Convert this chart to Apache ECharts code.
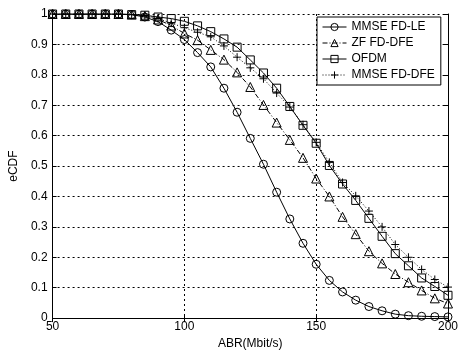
<!DOCTYPE html>
<html>
<head>
<meta charset="utf-8">
<script src="https://cdn.jsdelivr.net/npm/echarts@6/dist/echarts.min.js"></script>
<style>
  html, body { margin: 0; padding: 0; background: #fff; }
  #main { width: 461px; height: 355px; }
</style>
</head>
<body>
<div id="main"></div>
<script>
// x positions (ABR, Mbit/s)
var abr = [50, 55, 60, 65, 70, 75, 80, 85, 90, 95, 100, 105, 110, 115, 120, 125,
           130, 135, 140, 145, 150, 155, 160, 165, 170, 175, 180, 185, 190, 195, 200];

var mmseLE = [1, 1, 1, 1, 1, 1, 0.998, 0.99, 0.975, 0.947, 0.916, 0.873, 0.826, 0.756, 0.677, 0.591,
              0.506, 0.414, 0.326, 0.246, 0.177, 0.124, 0.086, 0.059, 0.038, 0.024, 0.013, 0.008, 0.006, 0.005, 0.004];
var zfDFE = [1, 1, 1, 1, 1, 1, 0.998, 0.993, 0.982, 0.962, 0.936, 0.914, 0.882, 0.85, 0.808, 0.76,
             0.701, 0.643, 0.586, 0.527, 0.459, 0.4, 0.333, 0.276, 0.22, 0.18, 0.145, 0.118, 0.091, 0.065, 0.048];
var ofdm = [1, 1, 1, 1, 1, 1, 0.998, 0.996, 0.99, 0.985, 0.976, 0.961, 0.942, 0.918, 0.891, 0.849,
            0.806, 0.756, 0.696, 0.634, 0.575, 0.502, 0.441, 0.387, 0.328, 0.269, 0.212, 0.172, 0.132, 0.104, 0.075];
var mmseDFE = [1, 1, 1, 1, 1, 1, 0.998, 0.995, 0.985, 0.97, 0.955, 0.94, 0.925, 0.895, 0.858, 0.823,
               0.787, 0.74, 0.694, 0.636, 0.578, 0.512, 0.446, 0.402, 0.352, 0.3, 0.242, 0.2, 0.16, 0.127, 0.102];

var yTicks = ["0", "0.1", "0.2", "0.3", "0.4", "0.5", "0.6", "0.7", "0.8", "0.9", "1"];

function pairs(ys) {
    var out = [];
    for (var i = 0; i < abr.length; i++) {
        out.push([abr[i], ys[i]]);
    }
    return out;
}

var font = "Liberation Sans";
var plusPath = "path://M0,5L10,5M5,0L5,10";

function mkSeries(name, ys, symbol, size, lineType) {
    return {
        name: name,
        type: "line",
        data: pairs(ys),
        symbol: symbol,
        symbolSize: size,
        showAllSymbol: true,
        lineStyle: { color: "#000", width: 1, type: lineType },
        itemStyle: { color: "rgba(255,255,255,0)", borderColor: "#000", borderWidth: 1 },
        emphasis: { disabled: true },
        z: 3
    };
}

var chart = echarts.init(document.getElementById("main"));
var option = {
    backgroundColor: "#fff",
    animation: false,
    grid: { left: 52, right: 11, top: 14, bottom: 30 },
    legend: {
        orient: "vertical",
        left: 317,
        top: 17,
        backgroundColor: "#fff",
        borderColor: "#000",
        borderWidth: 1,
        borderRadius: 0,
        padding: [4, 6, 4, 5],
        itemGap: 4,
        itemWidth: 24,
        itemHeight: 9,
        lineStyle: { width: 1 },
        itemStyle: { borderWidth: 1 },
        textStyle: { fontFamily: font, fontSize: 12, color: "#000" },
        data: ["MMSE FD-LE", "ZF FD-DFE", "OFDM", "MMSE FD-DFE"]
    },
    xAxis: [
        {
            type: "value",
            min: 50,
            max: 200,
            interval: 50,
            name: "ABR(Mbit/s)",
            nameLocation: "middle",
            nameGap: 16,
            nameTextStyle: { fontFamily: font, fontSize: 12, color: "#000" },
            axisLine: { lineStyle: { color: "#000", width: 1 } },
            axisTick: { inside: true, length: 4, lineStyle: { color: "#000" } },
            axisLabel: { fontFamily: font, fontSize: 12, color: "#000", margin: 3 },
            splitLine: { show: true, lineStyle: { color: "#000", width: 1, type: [2, 3] } }
        },
        {
            type: "value",
            position: "top",
            min: 50,
            max: 200,
            interval: 50,
            axisLine: { show: true, lineStyle: { color: "#000", width: 1 } },
            axisTick: { show: true, inside: true, length: 4, lineStyle: { color: "#000" } },
            axisLabel: { show: false },
            splitLine: { show: false }
        }
    ],
    yAxis: [
        {
            type: "value",
            min: 0,
            max: 1,
            interval: 0.1,
            name: "eCDF",
            nameLocation: "middle",
            nameGap: 28,
            nameTextStyle: { fontFamily: font, fontSize: 12, color: "#000" },
            axisLine: { show: true, lineStyle: { color: "#000", width: 1 } },
            axisTick: { show: true, inside: true, length: 4, lineStyle: { color: "#000" } },
            axisLabel: {
                fontFamily: font, fontSize: 12, color: "#000", margin: 5,
                formatter: function (v) { return yTicks[Math.round(v * 10)]; }
            },
            splitLine: { show: true, lineStyle: { color: "#000", width: 1, type: [2, 3] } }
        },
        {
            type: "value",
            position: "right",
            min: 0,
            max: 1,
            interval: 0.1,
            axisLine: { show: true, lineStyle: { color: "#000", width: 1 } },
            axisTick: { show: true, inside: true, length: 4, lineStyle: { color: "#000" } },
            axisLabel: { show: false },
            splitLine: { show: false }
        }
    ],
    series: [
        mkSeries("MMSE FD-LE", mmseLE, "circle", 8, "solid"),
        mkSeries("ZF FD-DFE", zfDFE, "triangle", 9, [5, 2, 1, 2]),
        mkSeries("OFDM", ofdm, "rect", 8, "solid"),
        mkSeries("MMSE FD-DFE", mmseDFE, plusPath, 8, [1, 2])
    ]
};
chart.setOption(option);
</script>
</body>
</html>
